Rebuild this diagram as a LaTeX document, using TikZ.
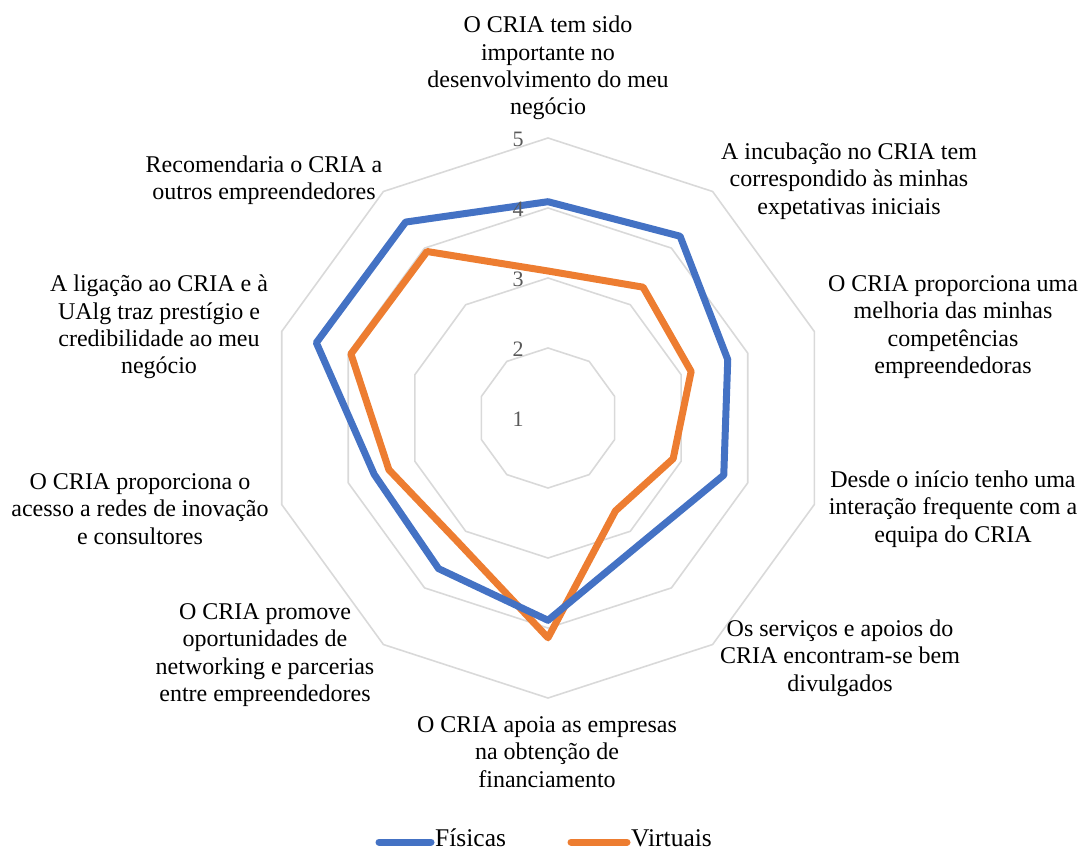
\documentclass[tikz,border=0pt]{standalone}
\usepackage{fontspec}
\setmainfont{Liberation Serif}
\usepackage{xcolor}
\usepackage{tikz}
\usetikzlibrary{calc}
\definecolor{serieblue}{HTML}{4472C4}
\definecolor{serieorange}{HTML}{ED7D31}
\definecolor{gridgray}{HTML}{D9D9D9}
\definecolor{tickgray}{HTML}{595959}
\tikzset{
  gridline/.style={draw=gridgray, line width=1.6pt, line join=round},
  fisicas/.style={draw=serieblue, line width=7pt, line join=round},
  virtuais/.style={draw=serieorange, line width=7pt, line join=round},
  catlabel/.style={align=center, inner sep=0pt,
    font=\fontsize{24}{27.3}\selectfont},
  ticklabel/.style={text=tickgray, inner sep=0pt,
    font=\fontsize{22}{24}\selectfont},
  legtext/.style={anchor=west, inner sep=0pt,
    font=\fontsize{25.5}{28}\selectfont}
}

\begin{document}
\begin{tikzpicture}[x=1pt,y=-1pt]
  \useasboundingbox (0,0) rectangle (1087,850);
  % radar grid and series
  \begin{scope}[shift={(548,418)}, y=1pt]
    \foreach \lvl in {1,...,4}
      \draw[gridline] (90:{\lvl*70})
        \foreach \k in {1,...,9}{ -- ({90-36*\k}:{\lvl*70}) } -- cycle;
    \draw[virtuais] (90:{2.10*70})
      \foreach \v [count=\k] in {3.31,3.15,2.88,2.64,4.14,3.19,3.39,3.96,3.94}
        { -- ({90-36*\k}:{(\v-1)*70}) } -- cycle;
    \draw[fisicas] (90:{3.09*70})
      \foreach \v [count=\k] in {4.21,3.70,3.64,3.23,3.89,3.66,3.61,4.48,4.46}
        { -- ({90-36*\k}:{(\v-1)*70}) } -- cycle;
  \end{scope}
  % scale values
  \foreach \t in {1,...,5}
    \node[ticklabel] (tick\t) at (518,{418-70*(\t-1)+1}) {\t};
  % category labels
  \node[catlabel] (q1) at (548,68) {O CRIA tem sido\\importante no\\desenvolvimento do meu\\negócio};
  \node[catlabel] (q2) at (849,181) {A incubação no CRIA tem\\correspondido às minhas\\expetativas iniciais};
  \node[catlabel] (q3) at (953,327) {O CRIA proporciona uma\\melhoria das minhas\\competências\\empreendedoras};
  \node[catlabel] (q4) at (953,509) {Desde o início tenho uma\\interação frequente com a\\equipa do CRIA};
  \node[catlabel] (q5) at (840,658) {Os serviços e apoios do\\CRIA encontram-se bem\\divulgados};
  \node[catlabel] (q6) at (547,752) {O CRIA apoia as empresas\\na obtenção de\\financiamento};
  \node[catlabel] (q7) at (265,655) {O CRIA promove\\oportunidades de\\networking e parcerias\\entre empreendedores};
  \node[catlabel] (q8) at (140,509) {O CRIA proporciona o\\acesso a redes de inovação\\e consultores};
  \node[catlabel] (q9) at (159,327) {A ligação ao CRIA e à\\UAlg traz prestígio e\\credibilidade ao meu\\negócio};
  \node[catlabel] (q10) at (264,180) {Recomendaria o CRIA a\\outros empreendedores};
  % legend
  \coordinate (lfa) at (379,842);
  \coordinate (lfb) at (431,842);
  \coordinate (lva) at (571,842);
  \coordinate (lvb) at (627,842);
  \draw[fisicas, line cap=round] (lfa) -- (lfb);
  \draw[virtuais, line cap=round] (lva) -- (lvb);
  \node[legtext] (lf) at (435,838) {Físicas};
  \node[legtext] (lv) at (631,838) {Virtuais};
\end{tikzpicture}
\end{document}
